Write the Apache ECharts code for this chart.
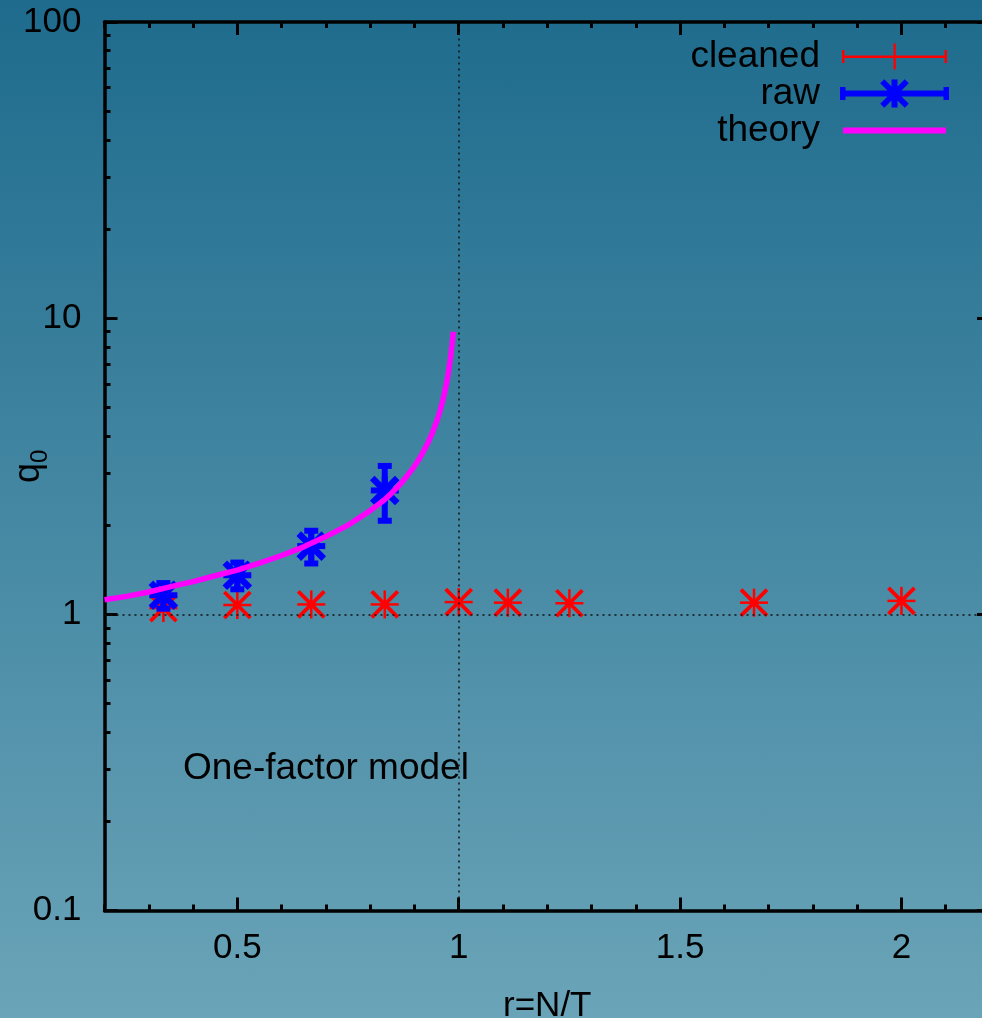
<!DOCTYPE html>
<html lang="en">
<head>
    <meta charset="UTF-8">
    <title>q0 vs r=N/T</title>
    <style>
        body { margin: 0; }
        #container {
            width: 982px; height: 1018px;
            background: linear-gradient(to bottom, #1e6b8d, #6aa4b8);
        }
    </style>
</head>
<body>
<div id="container"></div>
<script src="https://cdn.jsdelivr.net/npm/echarts@6.0.0/dist/echarts.min.js"></script>
<script type="text/javascript">
    // values
    var cleanedR = [0.333, 0.5, 0.667, 0.833, 1.0, 1.111, 1.25, 1.667, 2.0];
    var cleanedQ = [1.05, 1.075, 1.08, 1.08, 1.10, 1.095, 1.09, 1.095, 1.11];
    var cleanedErr = [0.01, 0.01, 0.01, 0.01, 0.01, 0.01, 0.01, 0.01, 0.01];

    var rawR = [0.333, 0.5, 0.667, 0.833];
    var rawQ = [1.16, 1.355, 1.70, 2.62];
    var rawErr = [0.115, 0.14, 0.215, 0.55];

    var theoryR = [0.2, 0.25, 0.3, 0.35, 0.4, 0.45, 0.5, 0.55, 0.6, 0.65, 0.7, 0.75, 0.8, 0.83, 0.85, 0.87,
        0.88, 0.9, 0.91, 0.92, 0.93, 0.94, 0.95, 0.955, 0.96, 0.965, 0.97, 0.975, 0.98, 0.983, 0.985, 0.988];
    var theoryQ = [1.12, 1.15, 1.19, 1.24, 1.29, 1.35, 1.41, 1.49, 1.58, 1.69, 1.83, 2.0, 2.24, 2.42, 2.58, 2.77,
        2.89, 3.16, 3.33, 3.54, 3.78, 4.08, 4.47, 4.71, 5.0, 5.35, 5.77, 6.32, 7.07, 7.68, 8.16, 9.0];

    var xLabels = [0.5, 1, 1.5, 2];
    var yMinorTicks = [0.2, 0.3, 0.4, 0.5, 0.6, 0.7, 0.8, 0.9, 2, 3, 4, 5, 6, 7, 8, 9,
        20, 30, 40, 50, 60, 70, 80, 90];

    var FONT = "'Liberation Sans', Arial, sans-serif";

    function toErr(rs, qs, es) {
        return rs.map(function (r, i) { return [r, qs[i], qs[i] - es[i], qs[i] + es[i]]; });
    }

    // asterisk point with vertical error bar
    function starItem(color, armW, diagW, size, diag, barW, capW) {
        return function (params, api) {
            var c = api.coord([api.value(0), api.value(1)]);
            var lo = api.coord([api.value(0), api.value(2)]);
            var hi = api.coord([api.value(0), api.value(3)]);
            function seg(x1, y1, x2, y2, w) {
                return {type: 'line', shape: {x1: x1, y1: y1, x2: x2, y2: y2}, style: {stroke: color, lineWidth: w}};
            }
            return {type: 'group', children: [
                seg(c[0], lo[1], c[0], hi[1], barW),
                seg(c[0] - capW, lo[1], c[0] + capW, lo[1], barW),
                seg(c[0] - capW, hi[1], c[0] + capW, hi[1], barW),
                seg(c[0] - size, c[1], c[0] + size, c[1], armW),
                seg(c[0], c[1] - size, c[0], c[1] + size, armW),
                seg(c[0] - diag, c[1] - diag, c[0] + diag, c[1] + diag, diagW),
                seg(c[0] - diag, c[1] + diag, c[0] + diag, c[1] - diag, diagW)
            ]};
        };
    }

    var corners = 'M0 0H0.01V0.01H0Z M123.99 29.99H124V30H123.99Z ';
    var iconCleaned = 'path://' + corners + 'M18 14H121V16.5H18Z M17 8.5H19.5V21.5H17Z M119.5 8.5H122V21.5H119.5Z M68.5 2H70.8V28H68.5Z';
    var iconRaw = 'path://' + corners + 'M17 12H122V18H17Z M15 8.5H20.5V21.5H15Z M118.5 8.5H124V21.5H118.5Z M66.5 1H72.5V29H66.5Z ' +
        'M59.27 0.73L83.77 25.23L79.73 29.27L55.23 4.77Z M83.77 4.77L59.27 29.27L55.23 25.23L79.73 0.73Z';
    var iconTheory = 'path://' + corners + 'M18 12H121V18H18Z';

    var axisBase = {min: 0.2, max: 2.2, gridIndex: 0, splitLine: {show: false}};
    var logBase = {type: 'log', logBase: 10, min: 0.1, max: 100, splitLine: {show: false}};
    var black = {color: '#000', width: 3};

    var myChart = echarts.init(document.getElementById('container'), null, {renderer: 'canvas'});
    var option = {
        animation: false,
        backgroundColor: 'transparent',
        grid: {left: 104.5, right: -8, top: 22, bottom: 107.5, containLabel: false, outerBoundsMode: 'none'},
        legend: {
            orient: 'vertical', align: 'right', right: 33, top: 38, padding: 0,
            itemWidth: 124, itemHeight: 30, itemGap: 0, selectedMode: false,
            textStyle: {fontSize: 37, fontFamily: FONT, color: '#000', lineHeight: 30},
            itemStyle: {borderWidth: 0},
            data: [
                {name: 'cleaned', icon: iconCleaned},
                {name: 'raw', icon: iconRaw},
                {name: 'theory', icon: iconTheory}
            ]
        },
        xAxis: [
            Object.assign({}, axisBase, {
                type: 'value', position: 'bottom', interval: 0.1,
                axisLine: {lineStyle: {color: '#000', width: 3.5}},
                axisTick: {inside: true, length: 6, lineStyle: black},
                axisLabel: {customValues: xLabels, fontSize: 35, fontFamily: FONT, color: '#000', margin: 20},
                name: 'r=N/T', nameLocation: 'middle', nameGap: 78, nameMoveOverlap: false,
                nameTextStyle: {fontSize: 35, fontFamily: FONT, color: '#000'}
            }),
            Object.assign({}, axisBase, {
                type: 'value', position: 'bottom', interval: 0.1,
                axisLine: {show: false},
                axisTick: {inside: true, length: 13, customValues: xLabels, lineStyle: black},
                axisLabel: {show: false}
            }),
            Object.assign({}, axisBase, {
                type: 'value', position: 'top', interval: 0.1,
                axisLine: {lineStyle: {color: '#000', width: 3.5}},
                axisTick: {inside: true, length: 6, lineStyle: black},
                axisLabel: {show: false}
            }),
            Object.assign({}, axisBase, {
                type: 'value', position: 'top', interval: 0.1,
                axisLine: {show: false},
                axisTick: {inside: true, length: 13, customValues: xLabels, lineStyle: black},
                axisLabel: {show: false}
            })
        ],
        yAxis: [
            Object.assign({}, logBase, {
                position: 'left',
                axisLine: {lineStyle: {color: '#000', width: 3.5}},
                axisTick: {inside: true, length: 13, lineStyle: black},
                axisLabel: {fontSize: 35, fontFamily: FONT, color: '#000', margin: 23},
                name: '{q|q}{s|0}', nameLocation: 'middle', nameGap: 52, nameMoveOverlap: false,
                nameTextStyle: {
                    color: '#000', fontFamily: FONT,
                    rich: {
                        q: {fontSize: 36, fontFamily: FONT, color: '#000', lineHeight: 46},
                        s: {fontSize: 24, fontFamily: FONT, color: '#000', lineHeight: 24, verticalAlign: 'bottom'}
                    }
                }
            }),
            Object.assign({}, logBase, {
                position: 'left',
                axisLine: {show: false},
                axisTick: {inside: true, length: 6, customValues: yMinorTicks, lineStyle: black},
                axisLabel: {show: false}
            }),
            Object.assign({}, logBase, {
                position: 'right',
                axisLine: {lineStyle: {color: '#000', width: 3.5}},
                axisTick: {inside: true, length: 13, lineStyle: black},
                axisLabel: {show: false}
            }),
            Object.assign({}, logBase, {
                position: 'right',
                axisLine: {show: false},
                axisTick: {inside: true, length: 6, customValues: yMinorTicks, lineStyle: black},
                axisLabel: {show: false}
            })
        ],
        graphic: [{
            type: 'text', left: 183, top: 750, silent: true,
            style: {text: 'One-factor model', fontSize: 37, fontFamily: FONT, fill: '#000'}
        }],
        series: [
            {
                name: 'grid', type: 'line', data: [], z: 1, silent: true,
                markLine: {
                    silent: true, symbol: 'none', label: {show: false},
                    lineStyle: {color: '#111', width: 1.5, type: [2, 4]},
                    data: [{xAxis: 1}, {yAxis: 1}]
                }
            },
            {
                name: 'cleaned', type: 'custom', z: 3,
                itemStyle: {color: '#ff0000'},
                renderItem: starItem('#ff0000', 2.5, 3.8, 14, 13, 2, 4),
                encode: {x: 0, y: 1},
                data: toErr(cleanedR, cleanedQ, cleanedErr)
            },
            {
                name: 'raw', type: 'custom', z: 4,
                itemStyle: {color: '#0000ff'},
                renderItem: starItem('#0000ff', 6, 6.5, 14, 12.5, 6, 7),
                encode: {x: 0, y: 1},
                data: toErr(rawR, rawQ, rawErr)
            },
            {
                name: 'theory', type: 'line', z: 5,
                symbol: 'none', showSymbol: false,
                itemStyle: {color: '#ff00ff'},
                lineStyle: {color: '#ff00ff', width: 5.5},
                data: theoryR.map(function (r, i) { return [r, theoryQ[i]]; })
            }
        ]
    };

    if (option && typeof option === "object") {
        myChart.setOption(option, true);
    }
</script>
</body>
</html>
